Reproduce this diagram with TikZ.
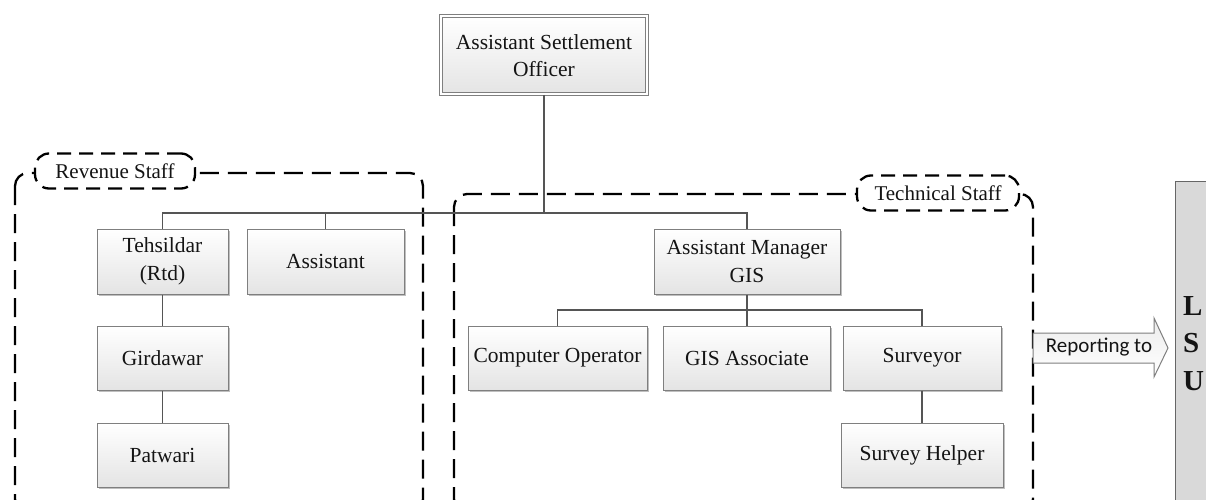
\documentclass[tikz,border=0pt]{standalone}
\usepackage{fontspec}
\setmainfont{Liberation Serif}
\newfontfamily\calibfont{Carlito}
\usetikzlibrary{shadows}

\definecolor{boxline}{HTML}{7F7F7F}
\definecolor{boxbot}{HTML}{E4E4E4}
\definecolor{wire}{HTML}{555555}
\definecolor{lsufill}{HTML}{D9D9D9}
\definecolor{inktext}{HTML}{141414}

\tikzset{
  post/.style={draw=boxline, line width=1pt, top color=white, bottom color=boxbot,
    inner sep=1pt, align=center, text=inktext,
    font=\fontsize{21.5}{27.5}\selectfont,
    drop shadow={shadow xshift=1.5pt, shadow yshift=-1.5pt, opacity=0.25, fill=black}},
  wirestyle/.style={draw=wire, line width=1.2pt},
  group/.style={draw=black, line width=2.3pt, dash pattern=on 19pt off 9pt, rounded corners=13pt},
  grouptag/.style={draw=black, fill=white, line width=2.3pt, dash pattern=on 14pt off 8pt,
    rounded corners=14pt, font=\fontsize{21}{24}\selectfont, text=inktext,
    inner sep=0pt, minimum height=35pt},
  lsuletter/.style={anchor=base west, inner sep=0pt, text=inktext,
    font=\bfseries\fontsize{29}{34}\selectfont},
}

\begin{document}
\begin{tikzpicture}[x=1pt, y=-1pt]
\useasboundingbox (0,0) rectangle (1206,500);
\clip (0,0) rectangle (1206,500);
\fill[white] (0,0) rectangle (1206,500);

% group frames with their tags
\draw[group] (15,173) rectangle (423,512);
\node[grouptag, minimum width=160pt] (revtag) at (115,171) {Revenue Staff};
\draw[group] (454,194) rectangle (1033,512);
\node[grouptag, minimum width=162pt] (techtag) at (938,193) {Technical Staff};

% head of the chart
\node[post, double=white, double distance=2pt, minimum width=206pt, minimum height=78pt]
  (aso) at (544,55.5) {Assistant Settlement\\Officer};

% revenue staff
\node[post, minimum width=131pt, minimum height=65pt] (teh)  at (162.5,261.5) {Tehsildar\\(Rtd)};
\node[post, minimum width=157pt, minimum height=65pt] (asst) at (325.5,261.5) {Assistant};
\node[post, minimum width=131pt, minimum height=64pt] (gir)  at (162.5,358) {Girdawar};
\node[post, minimum width=131pt, minimum height=64pt] (pat)  at (162.5,455) {Patwari};

% technical staff
\node[post, minimum width=186pt, minimum height=65pt] (amg)  at (747,261.5) {Assistant Manager\\GIS};
\node[post, minimum width=179pt, minimum height=64pt] (cop)  at (557.5,358) {Computer Operator};
\node[post, minimum width=167pt, minimum height=64pt] (gisa) at (747,358) {GIS Associate};
\node[post, minimum width=158pt, minimum height=64pt] (sur)  at (922,358) {Surveyor};
\node[post, minimum width=162pt, minimum height=64pt] (sh)   at (922,455) {Survey Helper};

% connectors
\coordinate (busy) at (0,213);
\coordinate (subbusy) at (0,310);
\draw[wirestyle] (aso.south) -- (aso.south |- busy);
\draw[wirestyle] (teh.north) |- (amg.north |- busy) -- (amg.north);
\draw[wirestyle] (asst.north) -- (asst.north |- busy);
\draw[wirestyle] (teh.south) -- (gir.north);
\draw[wirestyle] (gir.south) -- (pat.north);
\draw[wirestyle] (cop.north) |- (sur.north |- subbusy) -- (sur.north);
\draw[wirestyle] (amg.south) -- (gisa.north);
\draw[wirestyle] (sur.south) -- (sh.north);

% LSU panel
\node[draw=boxline!80!black, fill=lsufill, line width=1pt, anchor=north west,
  minimum width=60pt, minimum height=340pt, inner sep=0pt] (lsu) at (1175,181) {};
\node[lsuletter] (lsuL) at (1183,315) {L};
\node[lsuletter] (lsuS) at (1183,352) {S};
\node[lsuletter] (lsuU) at (1183,390) {U};

% reporting arrow
\draw[draw=boxline, line width=1pt, top color=boxbot!70, bottom color=white]
  (1033,333) -- (1154,333) -- (1154,318) -- (1168,348) -- (1154,377)
  -- (1154,363) -- (1033,363) -- cycle;
\node[font=\calibfont\fontsize{21}{24}\selectfont, text=inktext, inner sep=0pt]
  (rep) at (1099,347) {Reporting to};
\end{tikzpicture}
\end{document}
